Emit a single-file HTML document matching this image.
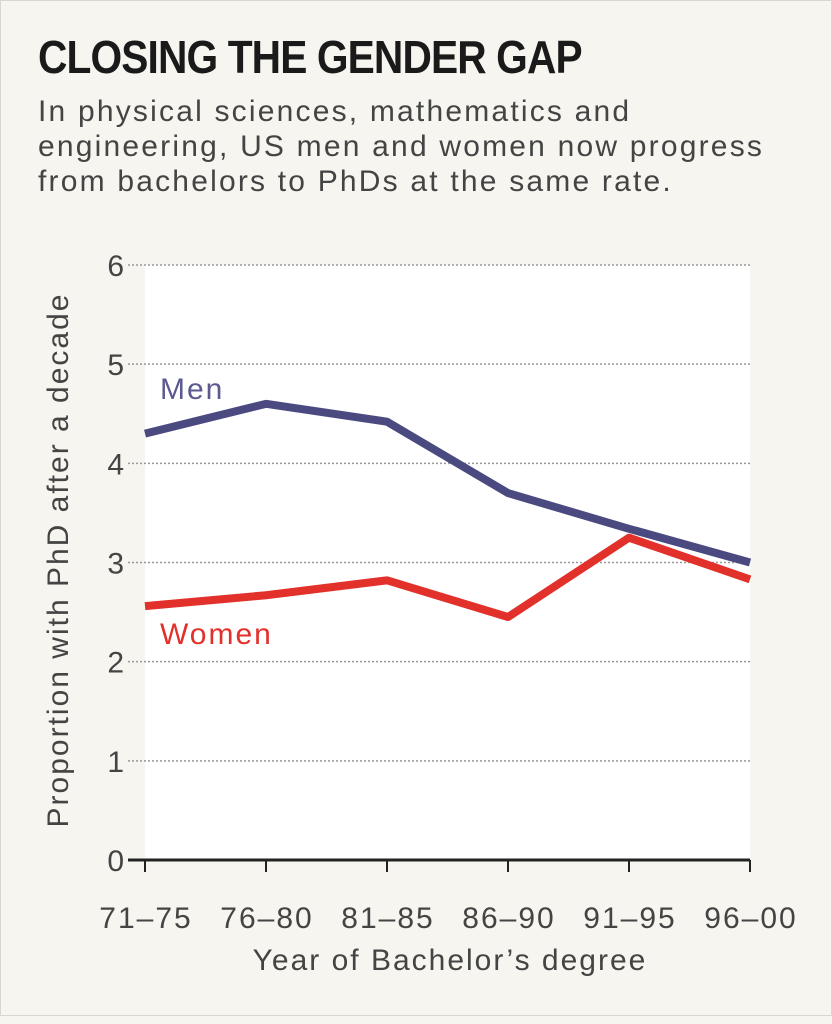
<!DOCTYPE html>
<html><head><meta charset="utf-8"><style>
body{margin:0;width:832px;height:1024px;background:#f7f5f0;font-family:"Liberation Sans",sans-serif;overflow:hidden}
.frame{position:absolute;left:0;top:0;width:830px;height:1014px;border:1px solid #d8d6d0}
h1{position:absolute;left:38px;top:30px;margin:0;font-family:"Liberation Sans Narrow","Liberation Sans",sans-serif;font-weight:bold;font-size:46px;letter-spacing:-1px;color:#1a1a1a;transform:scaleX(0.885);transform-origin:left;white-space:nowrap}
.sub{position:absolute;left:38px;top:94px;font-size:30px;letter-spacing:2.2px;line-height:35px;color:#444;white-space:nowrap}
svg text{letter-spacing:2px}
</style></head><body>
<div class="frame"></div>
<h1>CLOSING THE GENDER GAP</h1>
<div class="sub">In physical sciences, mathematics and<br>engineering, US men and women now progress<br>from bachelors to PhDs at the same rate.</div>
<svg id="chart" width="832" height="1024" style="position:absolute;left:0;top:0"></svg>
<script>
const categories=["71–75","76–80","81–85","86–90","91–95","96–00"];
const menValues=[4.3,4.6,4.42,3.7,3.34,3.0];
const womenValues=[2.56,2.67,2.82,2.45,3.25,2.83];
const yTicks=[0,1,2,3,4,5,6];
const NS="http://www.w3.org/2000/svg";
const svg=document.getElementById('chart');
const x0=145,x1=750,yb=860,yt=265;
const xs=i=>x0+i*(x1-x0)/(categories.length-1);
const ys=v=>yb-v*(yb-yt)/6;
function mk(t,a){const e=document.createElementNS(NS,t);for(const k in a)e.setAttribute(k,a[k]);svg.appendChild(e);return e;}
const bg=mk('rect',{x:x0,y:yt,width:x1-x0,height:yb-yt,fill:'#fff'});


yTicks.forEach(v=>{
  if(v>0){const g=mk('line',{x1:128,x2:x1,y1:ys(v),y2:ys(v),stroke:'#999','stroke-width':1.5,'stroke-dasharray':'2 2'});
  
  }
  const t=mk('text',{x:126,y:ys(v)+11,'text-anchor':'end','font-size':30,fill:'#444','font-family':'Liberation Sans'});
  t.textContent=v;
  
  
});
const ax=mk('line',{x1:128,x2:x1,y1:yb,y2:yb,stroke:'#222','stroke-width':3});


categories.forEach((c,i)=>{
  const tk=mk('line',{x1:xs(i),x2:xs(i),y1:yb,y2:yb+12,stroke:'#222','stroke-width':2});
  
  
  const t=mk('text',{x:xs(i)+1,y:yb+68,'text-anchor':'middle','font-size':30,fill:'#444','font-family':'Liberation Sans'});
  t.textContent=c;
  
  
});
function line(vals,col,name){
  const p=mk('polyline',{points:vals.map((v,i)=>xs(i)+','+ys(v)).join(' '),fill:'none',stroke:col,'stroke-width':8,'stroke-linejoin':'round'});
  
  
}
line(menValues,'#4b4a80','men-line');
line(womenValues,'#e2302b','women-line');
const lm=mk('text',{x:160,y:399,'font-size':30,fill:'#5b5a90','font-family':'Liberation Sans'});lm.textContent='Men';


const lw=mk('text',{x:160,y:644,'font-size':30,fill:'#e2302b','font-family':'Liberation Sans'});lw.textContent='Women';


const xt=mk('text',{x:450,y:970,'text-anchor':'middle','font-size':30,fill:'#444','font-family':'Liberation Sans'});xt.textContent='Year of Bachelor’s degree';


const yt2=mk('text',{x:0,y:0,'text-anchor':'middle','font-size':30,fill:'#444','font-family':'Liberation Sans',transform:'translate(68,560) rotate(-90)'});yt2.textContent='Proportion with PhD after a decade';


</script>
</body></html>
